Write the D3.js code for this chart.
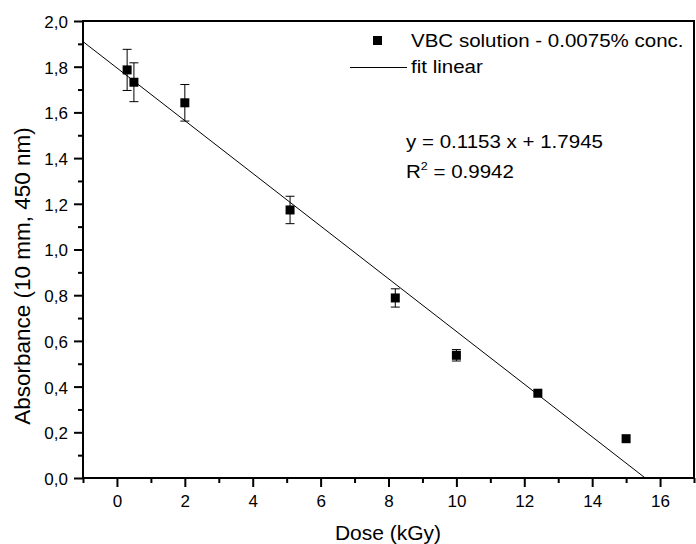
<!DOCTYPE html>
<html lang="en">
<head>
<meta charset="utf-8">
<title>VBC dose response</title>
<script src="https://cdn.jsdelivr.net/npm/d3@7"></script>
<style>
  body { margin: 0; background: #fff; }
  svg text { font-family: "Liberation Sans", Arial, sans-serif; fill: #000; }
</style>
</head>
<body>
<svg id="chart"></svg>
<script>
// measured data (dose in kGy, absorbance at 450 nm)
var dose       = [0.3, 0.5, 2.0, 5.1, 8.2, 10.0, 12.4, 15.0];
var absorbance = [1.786, 1.732, 1.642, 1.173, 0.788, 0.537, 0.371, 0.172];
var errors     = [0.09, 0.085, 0.08, 0.06, 0.04, 0.025, 0, 0];

var fitSlope = -0.1153;
var fitIntercept = 1.7945;

var xTicks = [0, 2, 4, 6, 8, 10, 12, 14, 16];
var xMinorTicks = [-1, 1, 3, 5, 7, 9, 11, 13, 15, 17];
var yTicks = [0.0, 0.2, 0.4, 0.6, 0.8, 1.0, 1.2, 1.4, 1.6, 1.8, 2.0];
var yMinorTicks = [0.1, 0.3, 0.5, 0.7, 0.9, 1.1, 1.3, 1.5, 1.7, 1.9];

var width = 696;
var height = 544;
var plotL = 83, plotR = 694, plotT = 21, plotB = 478;

var svg = d3.select("#chart")
    .attr("width", width)
    .attr("height", height);

var x = d3.scaleLinear().domain([-1, 17]).range([plotL, plotR]);
var y = d3.scaleLinear().domain([0, 2]).range([plotB, plotT]);

var commaFmt = function(d){ return d3.format(".1f")(d).replace(".", ","); };

// major + minor ticks
var xAxis = svg.append("g")
    .attr("transform", "translate(0," + plotB + ")")
    .call(d3.axisBottom(x).tickValues(xTicks).tickSize(9).tickPadding(8).tickFormat(d3.format("d")));
var xMinor = svg.append("g")
    .attr("transform", "translate(0," + plotB + ")")
    .call(d3.axisBottom(x).tickValues(xMinorTicks).tickSize(5).tickFormat(""));

var yAxis = svg.append("g")
    .attr("transform", "translate(" + plotL + ",0)")
    .call(d3.axisLeft(y).tickValues(yTicks).tickSize(9).tickPadding(6).tickFormat(commaFmt));
var yMinor = svg.append("g")
    .attr("transform", "translate(" + plotL + ",0)")
    .call(d3.axisLeft(y).tickValues(yMinorTicks).tickSize(5).tickFormat(""));

[xAxis, xMinor, yAxis, yMinor].forEach(function(g){
    g.select(".domain").remove();
    g.attr("font-size", 17).attr("font-family", null);
    g.selectAll("line").attr("stroke", "#000").attr("stroke-width", 2);
    g.selectAll("text").style("font-size", "17px").attr("fill", "#000");
});
yAxis.selectAll("text").attr("dy", "0.38em");

// frame
svg.append("rect")
    .attr("x", plotL).attr("y", plotT)
    .attr("width", plotR - plotL).attr("height", plotB - plotT)
    .attr("fill", "none")
    .attr("stroke", "#000")
    .attr("stroke-width", 2);

// linear fit
var xEnd = -fitIntercept / fitSlope;
svg.append("line")
    .attr("x1", x(-1)).attr("y1", y(fitIntercept + fitSlope * -1))
    .attr("x2", x(xEnd)).attr("y2", y(0))
    .attr("stroke", "#000")
    .attr("stroke-width", 1);

// points with error bars
var pts = dose.map(function(d, i){ return { x: d, y: absorbance[i], e: errors[i] }; });

var eb = svg.append("g").selectAll("g")
    .data(pts.filter(function(d){ return d.e > 0; }))
    .enter().append("g")
    .attr("stroke", "#000")
    .attr("stroke-width", 1);
eb.append("line")
    .attr("x1", d => x(d.x)).attr("x2", d => x(d.x))
    .attr("y1", d => y(d.y - d.e)).attr("y2", d => y(d.y + d.e));
eb.append("line")
    .attr("x1", d => x(d.x) - 4.5).attr("x2", d => x(d.x) + 4.5)
    .attr("y1", d => y(d.y + d.e)).attr("y2", d => y(d.y + d.e));
eb.append("line")
    .attr("x1", d => x(d.x) - 4.5).attr("x2", d => x(d.x) + 4.5)
    .attr("y1", d => y(d.y - d.e)).attr("y2", d => y(d.y - d.e));

var sz = 9;
svg.append("g").selectAll("rect")
    .data(pts)
    .enter().append("rect")
    .attr("x", d => x(d.x) - sz / 2)
    .attr("y", d => y(d.y) - sz / 2)
    .attr("width", sz).attr("height", sz)
    .attr("fill", "#000");

// axis titles
svg.append("text")
    .attr("x", 388).attr("y", 540)
    .attr("text-anchor", "middle")
    .style("font-size", "21px")
    .text("Dose (kGy)");

svg.append("text")
    .attr("transform", "translate(30,276) rotate(-90)")
    .attr("text-anchor", "middle")
    .style("font-size", "22.5px")
    .text("Absorbance (10 mm, 450 nm)");

// legend and fit text (a little wider than plain Arial in the original)
function wideText(px, py, size) {
    return svg.append("text")
        .attr("transform", "translate(" + px + "," + py + ") scale(1.14,1)")
        .style("font-size", size + "px");
}

svg.append("rect")
    .attr("x", 373).attr("y", 36)
    .attr("width", 9).attr("height", 9)
    .attr("fill", "#000");
wideText(411, 47, 18).text("VBC solution - 0.0075% conc.");

svg.append("line")
    .attr("x1", 350).attr("x2", 407)
    .attr("y1", 67.5).attr("y2", 67.5)
    .attr("stroke", "#000").attr("stroke-width", 1);
wideText(411, 73, 18).text("fit linear");

wideText(406, 148, 18).text("y = 0.1153 x + 1.7945");
var r2 = wideText(406, 178, 18);
r2.append("tspan").text("R");
r2.append("tspan").attr("dy", -8).style("font-size", "11px").text("2");
r2.append("tspan").attr("dy", 8).text(" = 0.9942");
</script>
</body>
</html>
